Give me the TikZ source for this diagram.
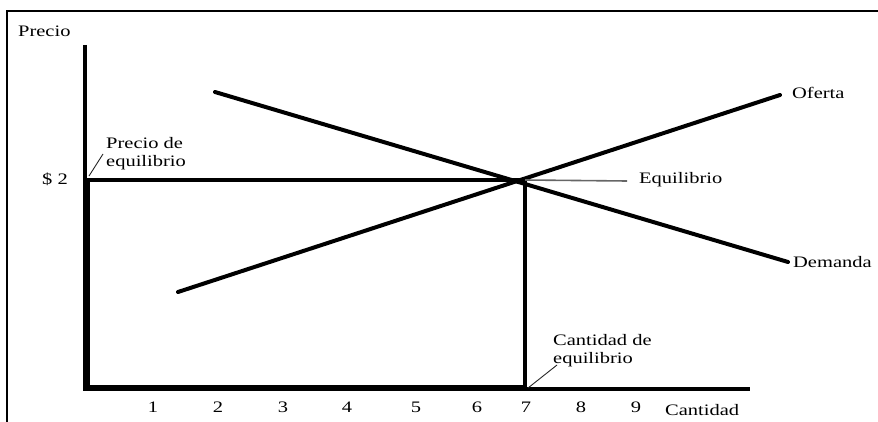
\documentclass[tikz,border=0pt]{standalone}
\usepackage{fontspec}
\setmainfont[FakeStretch=1.28]{Liberation Serif}
\begin{document}
\begin{tikzpicture}[x=1pt,y=-1pt,
  lbl/.style={inner sep=0pt,font=\fontsize{16}{18}\selectfont},
  curve/.style={line width=4pt,line cap=round},
  axisline/.style={line width=4pt},
  leader/.style={line width=0.9pt,draw=black!85},
  gleader/.style={line width=1.6pt,draw=black!60}]
\useasboundingbox (0,0) rectangle (878,422);
% frame
\draw[line width=2pt] (7,422) -- (7,11) -- (878,11);
% coordinates
\coordinate (Ytop) at (85,45);
\coordinate (O) at (85,389);
\coordinate (Xend) at (750,389);
\coordinate (P2) at (87,180);
\coordinate (E) at (525,180);
\coordinate (Q7) at (525,389);
\coordinate (D1) at (215,92);
\coordinate (D2) at (788,262);
\coordinate (S1) at (178,292);
\coordinate (S2) at (780,95);
% axes
\draw[axisline] (Ytop) -- (O);
\draw[axisline] (Q7) -- (Xend);
% equilibrium box
\draw[line width=4pt] (P2) -- (E);
\draw[line width=4pt] (E) -- (Q7);
\draw[line width=7pt] (86,180) -- (86,391);
\draw[line width=6pt] (83,388) -- (527,388);
% curves
\draw[curve] (D1) -- (D2);
\draw[curve] (S1) -- (S2);
% labels
\node[lbl,anchor=base west] (precio) at (18,37) {Precio};
\node[lbl,anchor=base west] (p2) at (42,185) {\$ 2};
\node[lbl,anchor=north west,align=left] (pe) at (106,137) {Precio de\\equilibrio};
\node[lbl,anchor=base west] (eq) at (639,184) {Equilibrio};
\node[lbl,anchor=base west] (of) at (792,99) {Oferta};
\node[lbl,anchor=base west] (dem) at (793,267) {Demanda};
\node[lbl,anchor=north west,align=left] (ce) at (553,334) {Cantidad de\\equilibrio};
\node[lbl,anchor=base west] (cant) at (665,415) {Cantidad};
\foreach \n/\xx in {1/153,2/218,3/283,4/347,5/416,6/477,7/526,8/581,9/636}
  \node[lbl,anchor=base] (n\n) at (\xx,412) {\n};
% leaders
\coordinate (peL) at (103,154);
\coordinate (P2L) at (89,176);
\draw[leader] (P2L) -- (peL);
\coordinate (ceL) at (557,365);
\coordinate (Q7L) at (528,388);
\draw[leader] (Q7L) -- (ceL);
\coordinate (eqL) at (627,181);
\draw[gleader] (E) -- (eqL);
\end{tikzpicture}
\end{document}
